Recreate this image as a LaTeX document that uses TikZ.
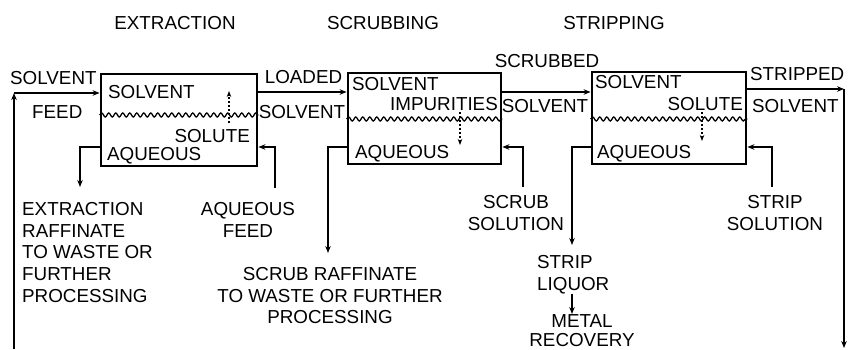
\documentclass[tikz,border=0pt]{standalone}
\usepackage{fontspec}
\setmainfont{Liberation Sans}
\usetikzlibrary{arrows.meta, positioning, decorations.pathmorphing}
\tikzset{
  % Stage box (mixer-settler)
  stage/.style={
    rectangle, draw=black, line width=2.8pt, inner sep=0pt
  },
  % Plain lettering
  lbl/.style={
    inner sep=0pt, font=\fontsize{18.8}{21.7}\selectfont, align=left
  },
  % Process stream
  flow/.style={
    -{Stealth[length=7pt,width=5.5pt]}, line width=1.6pt
  },
  % Phase interface
  iface/.style={
    line width=1.3pt, decorate,
    decoration={snake, amplitude=2pt, segment length=7pt}
  },
  % Solute transfer across the interface
  transfer/.style={
    dash pattern=on 2pt off 2pt, line width=1.3pt,
    -{Stealth[length=6pt,width=4.5pt]}
  }
}

\begin{document}
\begin{tikzpicture}[x=1pt, y=-1pt]
  \useasboundingbox (0,0) rectangle (849,349);

  % ── Stage titles ──────────────────────────────────────────────────────────
  \node[lbl, anchor=base] (ttlext) at (175,29) {EXTRACTION};
  \node[lbl, anchor=base] (ttlscr) at (383,29) {SCRUBBING};
  \node[lbl, anchor=base] (ttlstp) at (614,29) {STRIPPING};

  % ── Stage boxes ───────────────────────────────────────────────────────────
  \node[stage, minimum width=156pt, minimum height=92pt] (ext) at (179,120) {};
  \node[stage, minimum width=153pt, minimum height=91pt] (scr) at (424.5,118.5) {};
  \node[stage, minimum width=154pt, minimum height=92pt] (stp) at (669,118) {};

  % ── Interfaces ────────────────────────────────────────────────────────────
  \coordinate (wv1) at (0,115);
  \coordinate (wv2) at (0,119);
  \draw[iface] (ext.west |- wv1) -- (ext.east |- wv1);
  \draw[iface] (scr.west |- wv2) -- (scr.east |- wv2);
  \draw[iface] (stp.west |- wv2) -- (stp.east |- wv2);

  % ── Labels inside the boxes ───────────────────────────────────────────────
  \node[lbl, anchor=base west] (extsol) at (108,98)  {SOLVENT};
  \node[lbl, anchor=base east] (extslt) at (250,142) {SOLUTE};
  \node[lbl, anchor=base west] (extaq)  at (107,160) {AQUEOUS};

  \node[lbl, anchor=base west] (scrsol) at (352,90)  {SOLVENT};
  \node[lbl, anchor=base east] (scrimp) at (498,110) {IMPURITIES};
  \node[lbl, anchor=base west] (scraq)  at (355,158) {AQUEOUS};

  \node[lbl, anchor=base west] (stpsol) at (595,88)  {SOLVENT};
  \node[lbl, anchor=base east] (stpslt) at (743,110) {SOLUTE};
  \node[lbl, anchor=base west] (stpaq)  at (597,158) {AQUEOUS};

  % ── Transfer arrows ───────────────────────────────────────────────────────
  \coordinate (t1a) at (229,123); \coordinate (t1b) at (229,91);
  \coordinate (t2a) at (460,112); \coordinate (t2b) at (460,145);
  \coordinate (t3a) at (702,112); \coordinate (t3b) at (702,141);
  \draw[transfer] (t1a) -- (t1b);
  \draw[transfer] (t2a) -- (t2b);
  \draw[transfer] (t3a) -- (t3b);

  % ── Solvent streams ───────────────────────────────────────────────────────
  \coordinate (feedin)   at (14,349);
  \coordinate (feedturn) at (14,93);
  \coordinate (lvl)      at (0,92);
  \coordinate (spturn)   at (844,89);
  \coordinate (spout)    at (844,348);

  \draw[flow] (feedin) -- (feedturn);
  \draw[flow] (feedturn) -- (feedturn -| ext.west);
  \draw[flow] (ext.east |- lvl) -- (scr.west |- lvl);
  \draw[flow] (scr.east |- lvl) -- (stp.west |- lvl);
  \draw[flow] (stp.east |- spturn) -- (spturn);
  \draw[flow] (spturn) -- (spout);

  \node[lbl, anchor=base west] (sfeed1) at (10,84)    {SOLVENT};
  \node[lbl, anchor=base west] (sfeed2) at (32,118)   {FEED};
  \node[lbl, anchor=base] (load1) at (303.5,83)  {LOADED};
  \node[lbl, anchor=base] (load2) at (302,118)   {SOLVENT};
  \node[lbl, anchor=base] (scrd1) at (547,67)    {SCRUBBED};
  \node[lbl, anchor=base] (scrd2) at (545,112)   {SOLVENT};
  \node[lbl, anchor=base west] (strp1) at (750,80)  {STRIPPED};
  \node[lbl, anchor=base west] (strp2) at (752,112) {SOLVENT};

  % ── Aqueous streams ───────────────────────────────────────────────────────
  \coordinate (aq)     at (0,147);
  \coordinate (raf1)   at (80,187);
  \coordinate (afeed)  at (275,188);
  \coordinate (raf2)   at (328,253);
  \coordinate (sfeed)  at (523,187);
  \coordinate (liqr)   at (572,245);
  \coordinate (stfeed) at (772,187);

  \draw[flow] (ext.west |- aq) -| (raf1);
  \draw[flow] (afeed) |- (ext.east |- aq);
  \draw[flow] (scr.west |- aq) -| (raf2);
  \draw[flow] (sfeed) |- (scr.east |- aq);
  \draw[flow] (stp.west |- aq) -| (liqr);
  \draw[flow] (stfeed) |- (stp.east |- aq);

  \node[lbl, anchor=north west] (raffext) at (22,202)
        {EXTRACTION\\RAFFINATE\\TO WASTE OR\\FURTHER\\PROCESSING};
  \node[lbl, anchor=north, align=center] (aqfeed) at (248,202) {AQUEOUS\\FEED};
  \node[lbl, anchor=north, align=center] (raffscr) at (330,267)
        {SCRUB RAFFINATE\\TO WASTE OR FURTHER\\PROCESSING};
  \node[lbl, anchor=north, align=center] (scrsoln) at (516,195) {SCRUB\\SOLUTION};
  \node[lbl, anchor=north west] (liquor) at (537,255) {STRIP\\LIQUOR};
  \node[lbl, anchor=north, align=center, font=\fontsize{18.8}{19.5}\selectfont]
        (metal) at (582,314) {METAL\\RECOVERY};
  \node[lbl, anchor=north, align=center] (stpsoln) at (775,195) {STRIP\\SOLUTION};

  \draw[flow] (liqr |- liquor.south) -- (liqr |- metal.north);

\end{tikzpicture}
\end{document}
